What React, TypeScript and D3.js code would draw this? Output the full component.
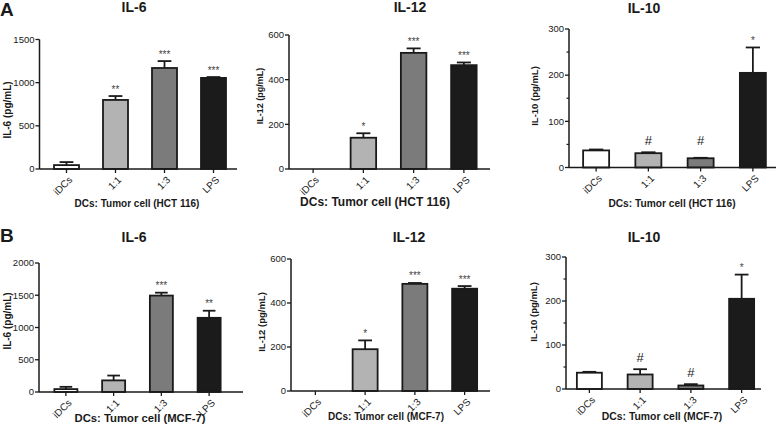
import React from "react";
import * as d3 from "d3";

// ---------- data ----------
const categories = ["iDCs", "1:1", "1:3", "LPS"];
const barColors = ["#ffffff", "#b3b3b3", "#7b7b7b", "#1b1b1b"];

const aIL6Mean = [45, 800, 1170, 1055];
const aIL6Err = [35, 45, 80, 10];
const aIL6Marks = ["", "**", "***", "***"];

const aIL12Mean = [0, 140, 520, 465];
const aIL12Err = [0, 20, 20, 12];
const aIL12Marks = ["", "*", "***", "***"];

const aIL10Mean = [37, 31, 20, 205];
const aIL10Err = [2, 2, 1, 55];
const aIL10Marks = ["", "#", "#", "*"];
const aIL10MarkBase = [39, 33, 33, 260];

const bIL6Mean = [45, 180, 1495, 1150];
const bIL6Err = [35, 75, 45, 110];
const bIL6Marks = ["", "", "***", "**"];

const bIL12Mean = [0, 190, 487, 465];
const bIL12Err = [0, 40, 4, 12];
const bIL12Marks = ["", "*", "***", "***"];

const bIL10Mean = [37, 33, 8, 205];
const bIL10Err = [2, 12, 3, 55];
const bIL10Marks = ["", "#", "#", "*"];

const ticksIL6A = [0, 500, 1000, 1500];
const ticksIL6B = [0, 500, 1000, 1500, 2000];
const ticksIL12 = [0, 200, 400, 600];
const ticksIL10 = [0, 100, 200, 300];
const minorIL10 = [50, 150, 250];

const xLabelA = "DCs: Tumor cell (HCT 116)";
const xLabelB = "DCs: Tumor cell (MCF-7)";

// ---------- layout ----------
type Panel = {
  title: string;
  yLabel: string;
  xLabel: string;
  mean: number[];
  err: number[];
  marks: string[];
  markBase?: number[];
  yMax: number;
  ticks: number[];
  minor?: number[];
  axisX: number;
  y0: number;
  yTop: number;
  xEnd: number;
  band: [number, number];
  barW: number;
  titleX: number;
  titleY: number;
  yLabelX: number;
  yLabelY: number;
  yLabelSize: number;
  xLabelX: number;
  xLabelY: number;
  xLabelSize: number;
};

const panels: Panel[] = [
  {
    title: "IL-6", yLabel: "IL-6 (pg/mL)", xLabel: xLabelA,
    mean: aIL6Mean, err: aIL6Err, marks: aIL6Marks, yMax: 1500, ticks: ticksIL6A,
    axisX: 39.5, y0: 169, yTop: 39.5, xEnd: 237, band: [42, 238], barW: 25,
    titleX: 134, titleY: 11.5, yLabelX: 7, yLabelY: 110, yLabelSize: 10,
    xLabelX: 137, xLabelY: 207, xLabelSize: 10,
  },
  {
    title: "IL-12", yLabel: "IL-12 (pg/mL)", xLabel: xLabelA,
    mean: aIL12Mean, err: aIL12Err, marks: aIL12Marks, yMax: 600, ticks: ticksIL12,
    axisX: 289, y0: 169, yTop: 35, xEnd: 490, band: [288, 489], barW: 25.5,
    titleX: 410, titleY: 11.5, yLabelX: 260, yLabelY: 96, yLabelSize: 9,
    xLabelX: 375, xLabelY: 205.5, xLabelSize: 12,
  },
  {
    title: "IL-10", yLabel: "IL-10 (pg/mL)", xLabel: xLabelA,
    mean: aIL10Mean, err: aIL10Err, marks: aIL10Marks, markBase: aIL10MarkBase,
    yMax: 300, ticks: ticksIL10, minor: minorIL10,
    axisX: 569, y0: 167.5, yTop: 29, xEnd: 776, band: [570, 779], barW: 26,
    titleX: 644, titleY: 12.5, yLabelX: 535, yLabelY: 96, yLabelSize: 9.5,
    xLabelX: 672, xLabelY: 207, xLabelSize: 10.2,
  },
  {
    title: "IL-6", yLabel: "IL-6 (pg/mL)", xLabel: xLabelB,
    mean: bIL6Mean, err: bIL6Err, marks: bIL6Marks, yMax: 2000, ticks: ticksIL6B,
    axisX: 39, y0: 392, yTop: 263, xEnd: 243, band: [42, 233], barW: 23,
    titleX: 134, titleY: 242, yLabelX: 7, yLabelY: 321, yLabelSize: 10,
    xLabelX: 140, xLabelY: 422, xLabelSize: 11.3,
  },
  {
    title: "IL-12", yLabel: "IL-12 (pg/mL)", xLabel: xLabelB,
    mean: bIL12Mean, err: bIL12Err, marks: bIL12Marks, yMax: 600, ticks: ticksIL12,
    axisX: 291, y0: 391, yTop: 259, xEnd: 490, band: [290.5, 489.5], barW: 25,
    titleX: 409, titleY: 241.5, yLabelX: 262, yLabelY: 322, yLabelSize: 9.5,
    xLabelX: 386, xLabelY: 420, xLabelSize: 10,
  },
  {
    title: "IL-10", yLabel: "IL-10 (pg/mL)", xLabel: xLabelB,
    mean: bIL10Mean, err: bIL10Err, marks: bIL10Marks,
    yMax: 300, ticks: ticksIL10, minor: minorIL10,
    axisX: 566, y0: 389, yTop: 257, xEnd: 761, band: [564, 767], barW: 25,
    titleX: 644, titleY: 242, yLabelX: 534, yLabelY: 312, yLabelSize: 9.5,
    xLabelX: 662, xLabelY: 420, xLabelSize: 10.4,
  },
];

const FONT = "'Liberation Sans', Arial, Helvetica, sans-serif";
const INK = "#1a1a1a";

function PanelView({ p }: { p: Panel }) {
  const step = (p.band[1] - p.band[0]) / categories.length;
  const pi = 1 - p.barW / step;
  const x = d3
    .scaleBand<string>()
    .domain(categories)
    .range(p.band)
    .paddingInner(pi)
    .paddingOuter(pi / 2);
  const y = d3.scaleLinear().domain([0, p.yMax]).range([p.y0, p.yTop]);
  const bw = x.bandwidth();
  const capW = bw * 0.55;

  return (
    <g>
      {/* title */}
      <text x={p.titleX} y={p.titleY} textAnchor="middle" fontSize={14} fontWeight="bold" fill={INK}>
        {p.title}
      </text>
      {/* y label */}
      <text
        transform={`translate(${p.yLabelX},${p.yLabelY}) rotate(-90)`}
        textAnchor="middle"
        dy="0.35em"
        fontSize={p.yLabelSize}
        fontWeight="bold"
        fill={INK}
      >
        {p.yLabel}
      </text>
      {/* x label */}
      <text x={p.xLabelX} y={p.xLabelY} textAnchor="middle" fontSize={p.xLabelSize} fontWeight="bold" fill={INK}>
        {p.xLabel}
      </text>

      {/* error bars */}
      {categories.map((c, i) => {
        if (p.mean[i] <= 0) return null;
        const cx = (x(c) as number) + bw / 2;
        const top = y(p.mean[i] + p.err[i]);
        return (
          <g key={"e" + c} stroke={INK} strokeWidth={1.8}>
            <line x1={cx} x2={cx} y1={y(p.mean[i])} y2={top} />
            <line x1={cx - capW / 2} x2={cx + capW / 2} y1={top} y2={top} />
          </g>
        );
      })}

      {/* bars */}
      {categories.map((c, i) => {
        if (p.mean[i] <= 0) return null;
        const bx = x(c) as number;
        const by = y(p.mean[i]);
        return (
          <rect
            key={"b" + c}
            x={bx}
            y={by}
            width={bw}
            height={p.y0 - by}
            fill={barColors[i]}
            stroke={INK}
            strokeWidth={1.8}
          />
        );
      })}

      {/* significance marks */}
      {categories.map((c, i) => {
        const m = p.marks[i];
        if (!m) return null;
        const cx = (x(c) as number) + bw / 2;
        const base = p.markBase ? p.markBase[i] : p.mean[i] + p.err[i];
        const isHash = m === "#";
        const yy = y(base) - (isHash ? 7.5 : 3.5);
        return (
          <text
            key={"m" + c}
            x={cx}
            y={yy}
            textAnchor="middle"
            fontSize={isHash ? 13 : 10}
            fill={isHash ? INK : "#444"}
          >
            {m}
          </text>
        );
      })}

      {/* y axis */}
      <line x1={p.axisX} x2={p.axisX} y1={p.y0} y2={p.yTop} stroke={INK} strokeWidth={1.5} />
      {p.ticks.map((t) => (
        <g key={"yt" + t}>
          <line x1={p.axisX - 4} x2={p.axisX} y1={y(t)} y2={y(t)} stroke={INK} strokeWidth={1.3} />
          <text x={p.axisX - 5} y={y(t)} dy="0.35em" textAnchor="end" fontSize={9.5} fill={INK}>
            {t}
          </text>
        </g>
      ))}
      {(p.minor || []).map((t) => (
        <line key={"ym" + t} x1={p.axisX - 2.5} x2={p.axisX} y1={y(t)} y2={y(t)} stroke={INK} strokeWidth={1.2} />
      ))}

      {/* x axis */}
      <line x1={p.axisX} x2={p.xEnd} y1={p.y0} y2={p.y0} stroke={INK} strokeWidth={1.5} />
      {categories.map((c) => {
        const cx = (x(c) as number) + bw / 2;
        return (
          <g key={"xt" + c}>
            <line x1={cx} x2={cx} y1={p.y0} y2={p.y0 + 4} stroke={INK} strokeWidth={1.3} />
            <text
              transform={`translate(${cx + 4},${p.y0 + 9}) rotate(-45)`}
              textAnchor="end"
              dy="0.35em"
              fontSize={10}
              fill={INK}
            >
              {c}
            </text>
          </g>
        );
      })}
    </g>
  );
}

export default function App() {
  return (
    <svg
      width={778}
      height={431}
      viewBox="0 0 778 431"
      style={{ position: "absolute", left: 0, top: 0, background: "#fff" }}
      fontFamily={FONT}
    >
      <rect width={778} height={431} fill="#fff" />
      <text x={0} y={15.5} fontSize={19} fontWeight="bold" fill={INK}>A</text>
      <text x={0} y={242} fontSize={19} fontWeight="bold" fill={INK}>B</text>
      {panels.map((p, i) => (
        <PanelView key={i} p={p} />
      ))}
    </svg>
  );
}
